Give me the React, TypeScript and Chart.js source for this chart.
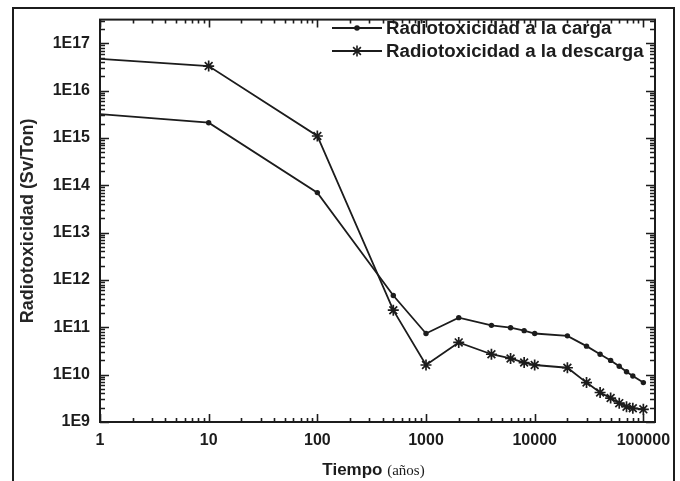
import React, { useEffect, useRef } from "react";
import { Chart, registerables } from "chart.js";

Chart.register(...registerables);

const years = [1, 10, 100, 500, 1000, 2000, 4000, 6000, 8000, 10000, 20000, 30000, 40000, 50000, 60000, 70000, 80000, 100000];
const cargaValues = [3.2e15, 2.1e15, 7e13, 4.7e11, 7.4e10, 1.6e11, 1.1e11, 9.8e10, 8.5e10, 7.4e10, 6.6e10, 4.0e10, 2.7e10, 2.0e10, 1.5e10, 1.15e10, 9.4e9, 6.8e9];
const descargaValues = [4.7e16, 3.3e16, 1.1e15, 2.3e11, 1.6e10, 4.8e10, 2.7e10, 2.2e10, 1.8e10, 1.6e10, 1.4e10, 6.8e9, 4.2e9, 3.2e9, 2.5e9, 2.1e9, 1.95e9, 1.85e9];
const xTickValues = [1, 10, 100, 1000, 10000, 100000];
const yTickValues = [1e9, 1e10, 1e11, 1e12, 1e13, 1e14, 1e15, 1e16, 1e17];
const seriesLabels = ["Radiotoxicidad a la carga", "Radiotoxicidad a la descarga"];
const yTitle = "Radiotoxicidad (Sv/Ton)";
const xTitleMain = "Tiempo";
const xTitleUnit = "(años)";

const INK = "#1c1c1c";
const SANS = "'Liberation Sans', Arial, sans-serif";
const SERIF = "'Liberation Serif', 'Times New Roman', serif";

function drawStar(ctx: CanvasRenderingContext2D, x: number, y: number, r: number) {
  ctx.beginPath();
  ctx.moveTo(x - r, y); ctx.lineTo(x + r, y);
  ctx.moveTo(x, y - r); ctx.lineTo(x, y + r);
  const d = r * Math.SQRT1_2;
  ctx.moveTo(x - d, y - d); ctx.lineTo(x + d, y + d);
  ctx.moveTo(x - d, y + d); ctx.lineTo(x + d, y - d);
  ctx.stroke();
}

const decorPlugin = {
  id: "decor",
  afterDraw(chart: any) {
    const { ctx, chartArea: a } = chart;
    const xs = chart.scales.x;
    const ys = chart.scales.y;
    ctx.save();
    ctx.strokeStyle = INK;
    // plot frame
    ctx.lineWidth = 2;
    ctx.strokeRect(a.left, a.top, a.right - a.left, a.bottom - a.top);
    // inward ticks
    ctx.lineWidth = 1.6;
    ctx.beginPath();
    for (let d = 0; d <= 6; d++) {
      for (let m = 1; m <= 9; m++) {
        const v = m * Math.pow(10, d);
        if (v < xs.min || v > xs.max) continue;
        const px = Math.round(xs.getPixelForValue(v)) + 0.5;
        const len = m === 1 ? 8 : 4;
        ctx.moveTo(px, a.bottom); ctx.lineTo(px, a.bottom - len);
        ctx.moveTo(px, a.top); ctx.lineTo(px, a.top + len);
      }
    }
    for (let d = 9; d <= 18; d++) {
      for (let m = 1; m <= 9; m++) {
        const v = m * Math.pow(10, d);
        if (v < ys.min || v > ys.max) continue;
        const py = Math.round(ys.getPixelForValue(v)) + 0.5;
        const len = m === 1 ? 9 : 5;
        ctx.moveTo(a.left, py); ctx.lineTo(a.left + len, py);
        ctx.moveTo(a.right, py); ctx.lineTo(a.right - len, py);
      }
    }
    ctx.stroke();
    // outer frame (open at bottom)
    ctx.lineWidth = 2;
    ctx.beginPath();
    ctx.moveTo(13, chart.height + 5);
    ctx.lineTo(13, 8);
    ctx.lineTo(674, 8);
    ctx.lineTo(674, chart.height + 5);
    ctx.stroke();
    // legend
    const items = chart.data.datasets;
    const lx0 = 332, lx1 = 382, tx = 386;
    const rows = [28, 51];
    ctx.fillStyle = INK;
    ctx.font = `bold 18.7px ${SANS}`;
    ctx.textBaseline = "middle";
    ctx.textAlign = "left";
    items.forEach((ds: any, i: number) => {
      const yy = rows[i];
      ctx.lineWidth = 1.8;
      ctx.beginPath();
      ctx.moveTo(lx0, yy); ctx.lineTo(lx1, yy);
      ctx.stroke();
      const cx = (lx0 + lx1) / 2;
      if (i === 0) {
        ctx.beginPath();
        ctx.arc(cx, yy, 2.8, 0, Math.PI * 2);
        ctx.fill();
      } else {
        ctx.lineWidth = 1.6;
        drawStar(ctx, cx, yy, 5.5);
      }
      ctx.fillText(ds.label, tx, yy + 1);
    });
    // x title
    ctx.font = `bold 17px ${SANS}`;
    const w1 = ctx.measureText(xTitleMain + " ").width;
    ctx.font = `15px ${SERIF}`;
    const w2 = ctx.measureText(xTitleUnit).width;
    const cxT = (a.left + a.right) / 2 - 4;
    const start = cxT - (w1 + w2) / 2;
    ctx.font = `bold 17px ${SANS}`;
    ctx.fillText(xTitleMain, start, 470);
    ctx.font = `15px ${SERIF}`;
    ctx.fillText(xTitleUnit, start + w1, 471);
    ctx.restore();
  },
};

export default function App() {
  const ref = useRef<HTMLCanvasElement | null>(null);
  useEffect(() => {
    if (!ref.current) return;
    const firstHidden = (r: number) => years.map((_, i) => (i === 0 ? 0 : r));
    const chart = new Chart(ref.current, {
      type: "line",
      data: {
        labels: years,
        datasets: [
          {
            label: seriesLabels[0],
            data: years.map((x, i) => ({ x, y: cargaValues[i] })),
            borderColor: INK,
            backgroundColor: INK,
            borderWidth: 1.8,
            pointStyle: "circle",
            pointRadius: firstHidden(2.7),
            pointBorderWidth: 0,
            pointBackgroundColor: INK,
            tension: 0,
          },
          {
            label: seriesLabels[1],
            data: years.map((x, i) => ({ x, y: descargaValues[i] })),
            borderColor: INK,
            backgroundColor: INK,
            borderWidth: 1.8,
            pointStyle: "star",
            pointRadius: firstHidden(5.5),
            pointBorderWidth: 1.7,
            pointBorderColor: INK,
            tension: 0,
          },
        ],
      },
      options: {
        animation: false,
        responsive: false,
        maintainAspectRatio: false,
        layout: { padding: { left: 0, top: 12, right: 25, bottom: 0 } },
        plugins: { legend: { display: false }, tooltip: { enabled: false } },
        scales: {
          x: {
            type: "logarithmic",
            min: 1,
            max: 128000,
            grid: { display: false, drawTicks: false },
            border: { display: false },
            afterBuildTicks: (s: any) => {
              s.ticks = xTickValues.map((v) => ({ value: v }));
            },
            afterFit: (s: any) => {
              s.height = 59;
            },
            ticks: {
              autoSkip: false,
              maxRotation: 0,
              padding: 9,
              color: INK,
              font: { family: SANS, size: 16, weight: "bold" },
              callback: (v: any) => String(v),
            },
          },
          y: {
            type: "logarithmic",
            min: 1e9,
            max: 3.16e17,
            grid: { display: false, drawTicks: false },
            border: { display: false },
            afterBuildTicks: (s: any) => {
              s.ticks = yTickValues.map((v) => ({ value: v }));
            },
            afterFit: (s: any) => {
              s.width = 100;
            },
            title: {
              display: true,
              text: yTitle,
              color: "#262626",
              font: { family: SANS, size: 18, weight: "bold" },
              padding: { top: 17, bottom: 0 },
            },
            ticks: {
              autoSkip: false,
              padding: 10,
              color: INK,
              font: { family: SANS, size: 16, weight: "bold" },
              callback: (v: any) => "1E" + Math.round(Math.log10(Number(v))),
            },
          },
        },
      },
      plugins: [decorPlugin],
    } as any);
    return () => chart.destroy();
  }, []);
  return (
    <div style={{ position: "fixed", left: 0, top: 0, width: 680, height: 481, background: "#fff" }}>
      <canvas ref={ref} width={680} height={481} style={{ display: "block" }} />
    </div>
  );
}
